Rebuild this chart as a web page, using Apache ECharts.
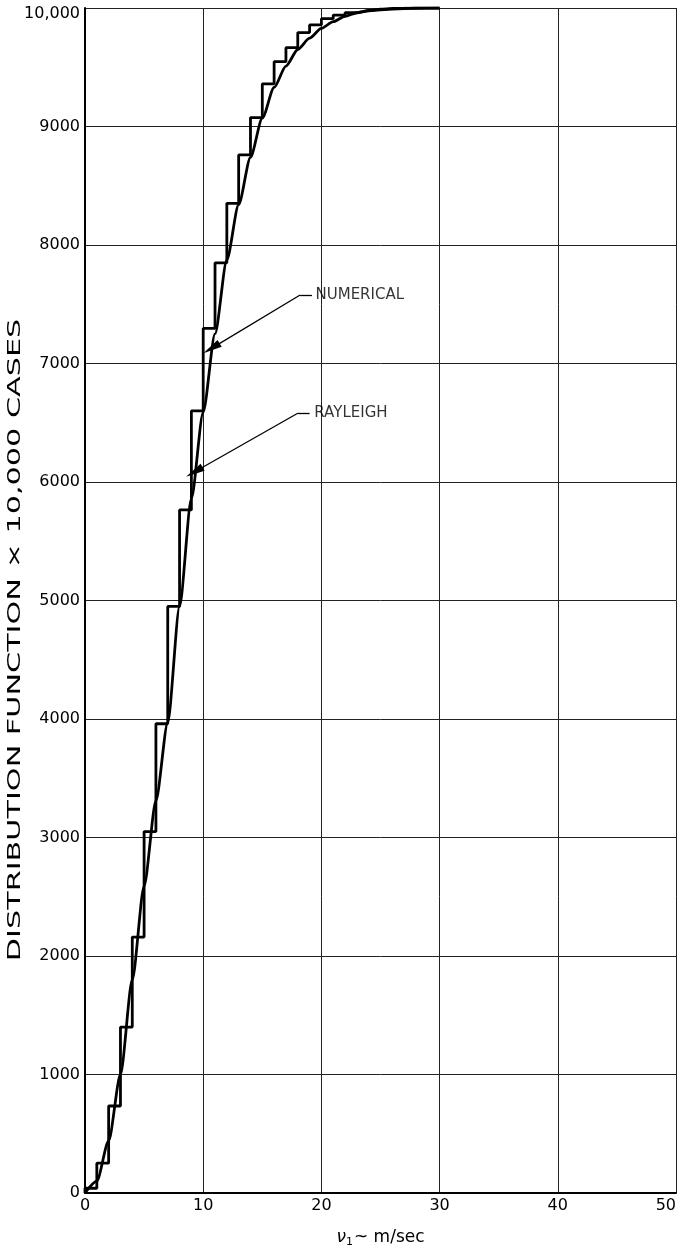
<!DOCTYPE html>
<html><head><meta charset="utf-8">
<script src="https://cdn.jsdelivr.net/npm/echarts@6/dist/echarts.min.js"></script>
<style>html,body{margin:0;padding:0;background:#fff}#c{width:679px;height:1247px}</style>
</head><body><div id="c"></div>
<script>
// Numerical distribution: cumulative count on each 1 m/sec bin [k, k+1]
const stepEdges = [0,1,2,3,4,5,6,7,8,9,10,11,12,13,14,15,16,17,18,19,20,21,22,23,24,25,26,27,28,29,30];
const stepLevels = [40,252,734,1400,2160,3050,3960,4950,5764,6600,7297,7850,8352,8760,9075,9360,9547,9665,9793,9857,9910,9940,9960,9975,9985,9991,9995,9998,9999,10000];
// Rayleigh curve, read at integer speeds
const curveX = [0,1,2,3,4,5,6,7,8,9,10,11,12,13,14,15,16,17,18,19,20,21,22,23,24,25,26,27,28,29,30];
const curveY = [0,100,440,1000,1800,2590,3310,3970,4950,5860,6590,7250,7875,8340,8740,9070,9330,9510,9650,9745,9828,9885,9930,9960,9980,9990,9996,9999,10000,10000,10000];
const xTicks = [0,10,20,30,40,50];
const yTicks = [0,1000,2000,3000,4000,5000,6000,7000,8000,9000,10000];
const annotations = [
  {name:'NUMERICAL', text:[19.5,7578], elbow:[18.2,7578], knee:[19.2,7578], tip:[10.7,7128]},
  {name:'RAYLEIGH',  text:[19.4,6580], elbow:[18.0,6580], knee:[19.0,6580], tip:[9.25,6084]}
];
const yTitle = 'DISTRIBUTION FUNCTION × 10,000 CASES';

const stairData = [[stepEdges[0], 0]];
stepLevels.forEach((v, i) => stairData.push([stepEdges[i + 1], v]));
const curveData = curveX.map((x, i) => [x, curveY[i]]);

const FONT = 'DejaVu Sans';
const GRID = {left: 85, right: 3, top: 8, bottom: 54};
const chart = echarts.init(document.getElementById('c'), null, {renderer: 'canvas'});
const markData = [];
annotations.forEach(a => {
  markData.push([{coord: a.elbow, symbol: 'none'}, {coord: a.knee, symbol: 'none'}]);
  markData.push([{coord: a.elbow, symbol: 'none'}, {coord: a.tip, symbol: 'triangle', symbolSize: [8, 19]}]);
});

chart.setOption({
  animation: false,
  backgroundColor: '#fff',
  grid: Object.assign({containLabel: false, outerBoundsMode: 'none'}, GRID),
  xAxis: {
    type: 'value', min: xTicks[0], max: xTicks[xTicks.length - 1], interval: 10,
    axisLine: {show: true, lineStyle: {color: '#000', width: 2}},
    axisTick: {show: false},
    axisLabel: {color: '#000', fontFamily: FONT, fontSize: 16, margin: 5, alignMaxLabel: 'right'},
    splitLine: {show: true, lineStyle: {color: '#222', width: 1}},
    name: '{v|ν}{s|1}{t|~ m/sec}',
    nameLocation: 'middle', nameGap: 35,
    nameTextStyle: {
      color: '#000', fontFamily: FONT, fontSize: 16,
      rich: {
        v: {fontFamily: FONT, fontSize: 17, fontStyle: 'italic', color: '#000'},
        s: {fontFamily: FONT, fontSize: 11, color: '#000', padding: [9, 1, 0, 0]},
        t: {fontFamily: FONT, fontSize: 17, color: '#000'}
      }
    }
  },
  yAxis: {
    type: 'value', min: yTicks[0], max: yTicks[yTicks.length - 1], interval: 1000,
    axisLine: {show: true, lineStyle: {color: '#000', width: 2}},
    axisTick: {show: false},
    axisLabel: {color: '#000', fontFamily: FONT, fontSize: 16, margin: 5,
      formatter: v => v === 10000 ? '{top|10,000}' : String(v),
      rich: {top: {fontFamily: FONT, fontSize: 16, color: '#000', padding: [12, 0, 0, 0]}}},
    splitLine: {show: true, lineStyle: {color: '#222', width: 1}}
  },
  graphic: [{
    type: 'text', x: 15, y: 640, rotation: Math.PI / 2, scaleX: 1.68,
    style: {text: yTitle, fill: '#000', font: '18px "DejaVu Sans"', align: 'center', verticalAlign: 'middle'}
  }],
  series: [
    {
      name: 'Numerical', type: 'line', step: 'start', data: stairData,
      showSymbol: false, lineStyle: {color: '#000', width: 2.8}, z: 3
    },
    {
      name: 'Rayleigh', type: 'line', smooth: 0.25, smoothMonotone: 'x', data: curveData,
      showSymbol: false, lineStyle: {color: '#000', width: 2.8}, z: 4
    },
    {
      name: 'annot', type: 'line', data: [], z: 5,
      markLine: {
        silent: true, animation: false,
        lineStyle: {color: '#000', width: 1.3, type: 'solid'},
        label: {show: false},
        data: markData
      }
    },
    {
      name: 'labels', type: 'scatter', symbolSize: 0, z: 6,
      data: annotations.map(a => ({value: a.text, name: a.name})),
      label: {show: true, position: 'right', distance: 0, formatter: p => p.name,
        color: '#000', fontFamily: FONT, fontSize: 15}
    }
  ]
});
</script>
</body></html>
